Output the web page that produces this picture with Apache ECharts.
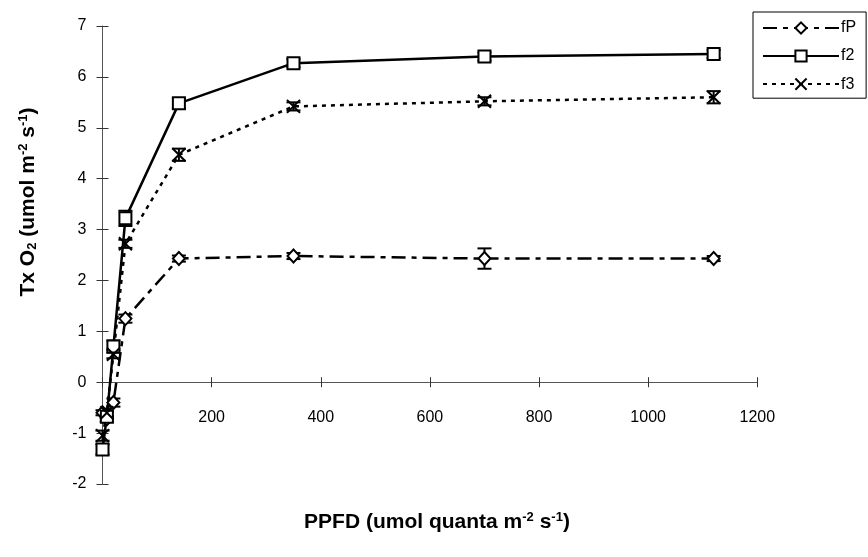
<!DOCTYPE html>
<html><head><meta charset="utf-8">
<script src="https://cdn.jsdelivr.net/npm/echarts@6/dist/echarts.min.js"></script>
<style>html,body{margin:0;padding:0;background:#fff}#c{width:868px;height:557px}</style>
</head><body><div id="c"></div>
<script>
var ppfd = [0, 8, 20, 42, 140, 350, 700, 1120];
var fP = [-0.6, -0.72, -0.4, 1.25, 2.43, 2.48, 2.43, 2.43];
var f2 = [-1.32, -0.68, 0.7, 3.22, 5.48, 6.27, 6.4, 6.45];
var f3 = [-1.05, -0.6, 0.55, 2.72, 4.47, 5.42, 5.52, 5.6];
var fPErr = [0.05, 0.05, 0.08, 0.08, 0.06, 0.06, 0.2, 0.05];
var f2Err = [0.1, 0.1, 0.12, 0.15, 0.1, 0.08, 0.08, 0.08];
var f3Err = [0.1, 0.08, 0.08, 0.08, 0.12, 0.08, 0.08, 0.12];
var xTicks = [0, 200, 400, 600, 800, 1000, 1200];
var yTicks = [-2, -1, 0, 1, 2, 3, 4, 5, 6, 7];

var FONT = '"Liberation Sans", Arial, sans-serif';
var chart = echarts.init(document.getElementById('c'), null, {renderer: 'canvas'});

function pairs(ys) { return ppfd.map(function (x, i) { return [x, ys[i]]; }); }
function errData(ys, es) { return ppfd.map(function (x, i) { return [x, ys[i] - es[i], ys[i] + es[i]]; }); }
function errSeries(ys, es, name) {
  return {
    type: 'custom', name: name + '_err', xAxisIndex: 0, yAxisIndex: 0, z: 3, silent: true,
    data: errData(ys, es),
    renderItem: function (params, api) {
      var x = api.value(0), lo = api.value(1), hi = api.value(2);
      var p1 = api.coord([x, lo]), p2 = api.coord([x, hi]);
      var w = 7;
      var st = {stroke: '#000', lineWidth: 2};
      return {type: 'group', children: [
        {type: 'line', shape: {x1: p1[0], y1: p1[1], x2: p2[0], y2: p2[1]}, style: st},
        {type: 'line', shape: {x1: p1[0] - w, y1: p1[1], x2: p1[0] + w, y2: p1[1]}, style: st},
        {type: 'line', shape: {x1: p2[0] - w, y1: p2[1], x2: p2[0] + w, y2: p2[1]}, style: st}
      ]};
    }
  };
}

var xSym = 'path://M0,0L10,10M10,0L0,10';
option = {
  animation: false,
  backgroundColor: '#fff',
  textStyle: {fontFamily: FONT},
  grid: {left: 102.5, right: 110.7, top: 26, bottom: 73, containLabel: false},
  legend: {
    left: 753, top: 12, orient: 'vertical',
    data: ['fP', 'f2', 'f3'],
    backgroundColor: '#fff', borderColor: '#000', borderWidth: 1,
    padding: [8, 10, 6, 9], itemWidth: 76, itemHeight: 14, itemGap: 12,
    textStyle: {fontFamily: FONT, fontSize: 16, color: '#000', padding: [0, 0, 0, -3]}
  },
  xAxis: [{
    type: 'value', min: 0, max: 1200, interval: 200,
    axisLine: {onZero: true, lineStyle: {color: '#555', width: 1}},
    axisTick: {show: true, length: 5, lineStyle: {color: '#333'}},
    axisLabel: {fontFamily: FONT, fontSize: 16, color: '#000', margin: -74,
      formatter: function (v) { return v === 0 ? '' : String(v); }},
    splitLine: {show: false}
  }, {
    type: 'value', min: 0, max: 1200, interval: 200, position: 'bottom',
    axisLine: {show: false, onZero: true},
    axisTick: {show: true, inside: true, length: 5, lineStyle: {color: '#333'}},
    axisLabel: {show: false}, splitLine: {show: false}
  }],
  yAxis: [{
    type: 'value', min: -2, max: 7, interval: 1,
    axisLine: {show: true, onZero: true, lineStyle: {color: '#555', width: 1}},
    axisTick: {show: true, length: 6, lineStyle: {color: '#333'}},
    axisLabel: {fontFamily: FONT, fontSize: 16, color: '#000', margin: 16},
    splitLine: {show: false}
  }, {
    type: 'value', min: -2, max: 7, interval: 1, position: 'left',
    axisLine: {show: false, onZero: false},
    axisTick: {show: true, inside: true, length: 6, lineStyle: {color: '#333'}},
    axisLabel: {show: false}, splitLine: {show: false}
  }],
  graphic: [
    {type: 'text', x: 437, y: 522, silent: true,
      style: {text: '{b|PPFD (umol quanta m}{s|-2}{b| s}{s|-1}{b|)}', align: 'center', verticalAlign: 'middle', fontFamily: FONT,
        rich: {b: {fontSize: 21, fontWeight: 'bold', fontFamily: FONT, fill: '#000'},
               s: {fontSize: 13, fontWeight: 'bold', fontFamily: FONT, fill: '#000', padding: [0, 0, 10, 0]}}}},
    {type: 'text', x: 28, y: 202, rotation: Math.PI / 2, silent: true,
      style: {text: '{b|Tx O}{u|2}{b| (umol m}{s|-2}{b| s}{s|-1}{b|)}', align: 'center', verticalAlign: 'middle', fontFamily: FONT,
        rich: {b: {fontSize: 21, fontWeight: 'bold', fontFamily: FONT, fill: '#000'},
               s: {fontSize: 13, fontWeight: 'bold', fontFamily: FONT, fill: '#000', padding: [0, 0, 10, 0]},
               u: {fontSize: 13, fontWeight: 'bold', fontFamily: FONT, fill: '#000', padding: [9, 0, 0, 0]}}}}
  ],
  series: [
    errSeries(fP, fPErr, 'fP'), errSeries(f2, f2Err, 'f2'), errSeries(f3, f3Err, 'f3'),
    {name: 'fP', type: 'line', data: pairs(fP), z: 4,
      symbol: 'diamond', symbolSize: [12, 13], showAllSymbol: true,
      lineStyle: {color: '#000', width: 2.5, type: [14, 6, 5, 6]},
      itemStyle: {color: '#fff', borderColor: '#000', borderWidth: 2}},
    {name: 'f2', type: 'line', data: pairs(f2), z: 4,
      symbol: 'rect', symbolSize: 12, showAllSymbol: true,
      lineStyle: {color: '#000', width: 2.5, type: 'solid'},
      itemStyle: {color: '#fff', borderColor: '#000', borderWidth: 2}},
    {name: 'f3', type: 'line', data: pairs(f3), z: 4,
      symbol: xSym, symbolSize: 13, showAllSymbol: true,
      lineStyle: {color: '#000', width: 2.5, type: [4, 5]},
      itemStyle: {color: 'none', borderColor: '#000', borderWidth: 2}}
  ]
};
chart.setOption(option);
</script></body></html>
